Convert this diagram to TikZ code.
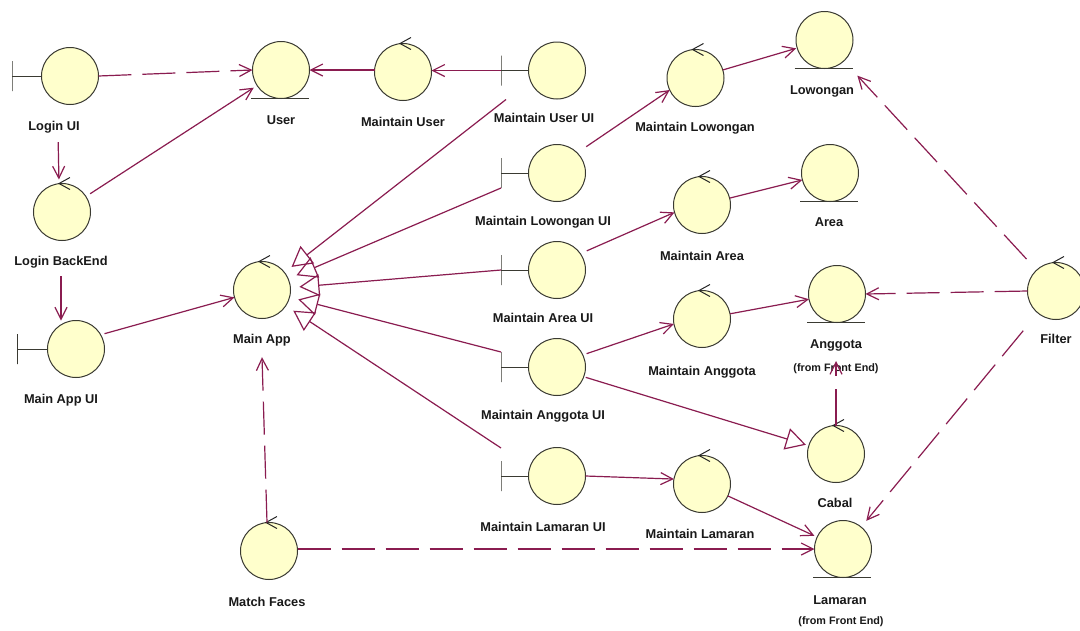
\documentclass[tikz,border=0pt]{standalone}
\usepackage{fontspec}
\setmainfont{Liberation Sans}
\usetikzlibrary{arrows.meta,calc}
\definecolor{lnk}{HTML}{8A1C50}
\definecolor{ink}{HTML}{3A3A32}
\definecolor{ball}{HTML}{FFFFCC}
\tikzset{
  ball/.style={circle,draw=ink,fill=ball,line width=1pt,minimum size=57pt,inner sep=0pt,outer sep=0pt},
  barnode/.style={rectangle,draw=ink,line width=1pt,minimum width=0pt,minimum height=30pt,inner sep=0pt,outer sep=0pt},
  stem/.style={draw=ink,line width=1pt},
  under/.style={draw=ink,line width=1pt},
  cmark/.style={draw=black!85,line width=1pt},
  lab/.style={font=\fontsize{12.8}{14}\selectfont\bfseries,text=black!90,inner sep=0pt},
  sublab/.style={font=\fontsize{10.8}{12}\selectfont\bfseries,text=black!90,inner sep=0pt},
  conn/.style={draw=lnk,line width=1.2pt,-{Straight Barb[length=12pt,width=12pt]}},
  dep/.style={conn,dash pattern=on 33pt off 11pt},
  gen/.style={draw=lnk,line width=1.2pt,-{Triangle[open,length=20pt,width=22pt]}},
}
\newcommand{\entball}[3]{\node[ball] (#1) at (#2,#3) {};
  \draw[under] ([xshift=-30]#1.south) -- ([xshift=28]#1.south);}
\newcommand{\ctlball}[3]{\node[ball] (#1) at (#2,#3) {};
  \draw[cmark] ([shift={(8,-6)}]#1.north) -- ([shift={(-3,0)}]#1.north) -- ([shift={(8,6)}]#1.north);}
\newcommand{\uiball}[4]{\node[ball] (#1) at (#2,#3) {};
  \node[barnode] (#1bar) at (#4,#3) {};
  \draw[stem] (#1bar.center) -- (#1.west);}
\begin{document}
\begin{tikzpicture}[x=1pt,y=-1pt]
\useasboundingbox (0,0) rectangle (1080,630);
\fill[white] (0,0) rectangle (1080,630);
% boundary objects
\uiball{loginui}{70}{76}{12}
\uiball{mainui}{76}{349}{17.5}
\uiball{uiuser}{557}{70.5}{501}
\uiball{uilow}{557}{173}{501}
\uiball{uiarea}{557}{270}{501}
\uiball{uiang}{557}{367}{501}
\uiball{uilam}{557}{476}{501}
% control objects
\ctlball{backend}{62}{212}
\ctlball{mainapp}{262}{290}
\ctlball{match}{269}{551}
\ctlball{muser}{403}{72}
\ctlball{mlow}{695.5}{78}
\ctlball{marea}{702}{205}
\ctlball{mang}{702}{319}
\ctlball{mlam}{702}{484}
\ctlball{cabal}{836}{454}
\ctlball{filter}{1056}{291}
% entity objects
\entball{user}{281}{70}
\entball{low}{824.5}{40}
\entball{area}{830}{173}
\entball{ang}{837}{294}
\entball{lam}{843}{549}
% labels
\node[lab] (lLogin) at (54,127) {Login UI};
\node[lab] (lBack) at (61,262) {Login BackEnd};
\node[lab] (lMainUI) at (61,400) {Main App UI};
\node[lab] (lMain) at (262,340) {Main App};
\node[lab] (lMatch) at (267,602) {Match Faces};
\node[lab] (lUser) at (281,120) {User};
\node[lab] (lMUser) at (403,122) {Maintain User};
\node[lab] (lUIUser) at (544,118) {Maintain User UI};
\node[lab] (lUILow) at (543,222) {Maintain Lowongan UI};
\node[lab] (lUIArea) at (543,318) {Maintain Area UI};
\node[lab] (lUIAng) at (543,416) {Maintain Anggota UI};
\node[lab] (lUILam) at (543,527) {Maintain Lamaran UI};
\node[lab] (lMLow) at (695,128) {Maintain Lowongan};
\node[lab] (lLow) at (822,91) {Lowongan};
\node[lab] (lMArea) at (702,256) {Maintain Area};
\node[lab] (lArea) at (829,222) {Area};
\node[lab] (lMAng) at (702,372) {Maintain Anggota};
\node[lab] (lAng) at (836,345) {Anggota};
\node[sublab] (sAng) at (836,369) {(from Front End)};
\node[lab] (lCabal) at (835,503) {Cabal};
\node[lab] (lMLam) at (700,534) {Maintain Lamaran};
\node[lab] (lLam) at (840,600) {Lamaran};
\node[sublab] (sLam) at (841,622) {(from Front End)};
\node[lab] (lFilter) at (1056,339) {Filter};
% connectors: left part
\draw[dep] (loginui.east) -- (user.west);
\draw[conn] (muser.west |- user.east) -- (user.east);
\draw[conn] (uiuserbar.center) -- (muser.east |- uiuserbar.center);
\draw[conn,shorten <=9pt,shorten >=4pt] ([xshift=4]lLogin.south) -- ([xshift=-3]backend.north);
\draw[conn,shorten <=5pt,shorten >=4pt] (backend) -- (user);
\draw[conn,shorten <=8pt] (lBack.south) -- (lBack.south |- mainui.north);
\draw[conn,shorten <=4pt] (mainui.30) -- (mainapp.195);
\draw[dep] ([xshift=-2]match.north) -- ([yshift=-11]lMain.south);
\draw[dep] (match.east |- lam.west) -- (lam.west);
% generalisations to Main App
\draw[gen,shorten >=9pt] ([shift={(5,14)}]uiuserbar.south) -- (mainapp);
\draw[gen,shorten >=9pt] (uilowbar.south) -- (mainapp);
\draw[gen,shorten >=9pt] (uiareabar.center) -- (mainapp);
\draw[gen,shorten >=9pt] (uiangbar.north) -- (mainapp);
\draw[gen,shorten >=9pt] ([yshift=13]uilambar.north) -- (mainapp);
% connectors: right part
\draw[conn,shorten <=11pt] (uilow.45) -- (mlow.205);
\draw[conn,shorten >=1pt] (mlow) -- (low);
\draw[conn,shorten <=7pt] (uiarea.35) -- (marea.195);
\draw[conn] (marea) -- (area);
\draw[conn,shorten <=4pt] (uiang.25) -- (mang.190);
\draw[conn] (mang) -- (ang);
\draw[gen,shorten <=2pt,shorten >=3pt] (uiang.340) -- (cabal);
\draw[conn,dash pattern=on 37pt off 13pt on 20pt] (cabal.north) -- ([yshift=8]sAng.center);
\draw[conn] (uilam.east) -- (mlam.170);
\draw[conn,shorten >=3pt] (mlam) -- (lam);
\draw[dep,shorten <=15pt,shorten >=20pt] (filter) -- (low);
\draw[dep] (filter.west) -- (ang.east);
\draw[dep,shorten <=23pt,shorten >=8pt] (filter) -- (lam);
\end{tikzpicture}
\end{document}
